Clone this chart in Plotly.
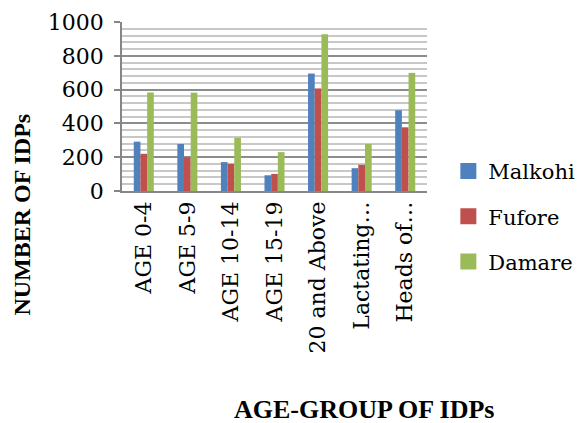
import plotly.graph_objects as go

categories = ["AGE 0-4", "AGE 5-9", "AGE 10-14", "AGE 15-19", "20 and Above", "Lactating…", "Heads of…"]
malkohi = [292, 278, 171, 93, 695, 135, 478]
fufore = [220, 199, 161, 101, 607, 155, 377]
damare = [583, 582, 315, 230, 928, 278, 699]
series_names = ["Malkohi", "Fufore", "Damare"]
colors = ["#4F81BD", "#C0504D", "#9BBB59"]
y_ticks = [0, 200, 400, 600, 800, 1000]

FONT = "DejaVu Serif"
TITLE_FONT = "Liberation Serif"

fig = go.Figure()
for name, vals, col in zip(series_names, [malkohi, fufore, damare], colors):
    fig.add_trace(go.Bar(
        x=categories, y=vals, name=name, legendgroup=name, showlegend=False,
        marker=dict(color=col, line=dict(width=0)),
    ))
# legend entries with larger square swatches
for name, col in zip(series_names, colors):
    fig.add_trace(go.Scatter(
        x=[None], y=[None], mode="markers", name=name, legendgroup=name,
        marker=dict(symbol="square", size=16, color=col),
    ))

fig.update_layout(
    width=583, height=423,
    margin=dict(l=122, r=156, t=22, b=232, autoexpand=False),
    paper_bgcolor="white", plot_bgcolor="white",
    barmode="group", bargap=0.54, bargroupgap=0,
    font=dict(family=FONT, size=22, color="black"),
    showlegend=True,
    legend=dict(
        x=1.07, y=-0.15, xanchor="left", yanchor="middle",
        font=dict(family=FONT, size=21, color="black"),
        tracegroupgap=15, traceorder="grouped", itemwidth=30,
        bgcolor="rgba(0,0,0,0)",
    ),
    xaxis=dict(
        tickangle=-90, showgrid=False, showline=True, linecolor="#868686", linewidth=1.5,
        ticks="", tickfont=dict(family=FONT, size=22),
    ),
    yaxis=dict(
        range=[0, 1000], tickvals=y_ticks, showline=True, linecolor="#868686", linewidth=1.5,
        ticks="outside", ticklen=6, tickcolor="#868686", tickwidth=1.5,
        gridcolor="#8C8C8C", gridwidth=1.5, zeroline=False,
        minor=dict(dtick=40, showgrid=True, gridcolor="#C8C8C8", gridwidth=1.5),
        tickfont=dict(family=FONT, size=22), ticklabelstandoff=6,
    ),
    annotations=[
        dict(text="<b>NUMBER OF IDPs</b>", xref="paper", yref="paper",
             x=-0.328, y=-0.14, textangle=-90, showarrow=False,
             xanchor="center", yanchor="middle",
             font=dict(family=TITLE_FONT, size=24, color="black")),
        dict(text="<b>AGE-GROUP OF IDPs</b>", xref="paper", yref="paper",
             x=0.795, y=-1.29, showarrow=False, xanchor="center", yanchor="middle",
             font=dict(family=TITLE_FONT, size=26, color="black")),
    ],
)

fig.write_html("out.html")
